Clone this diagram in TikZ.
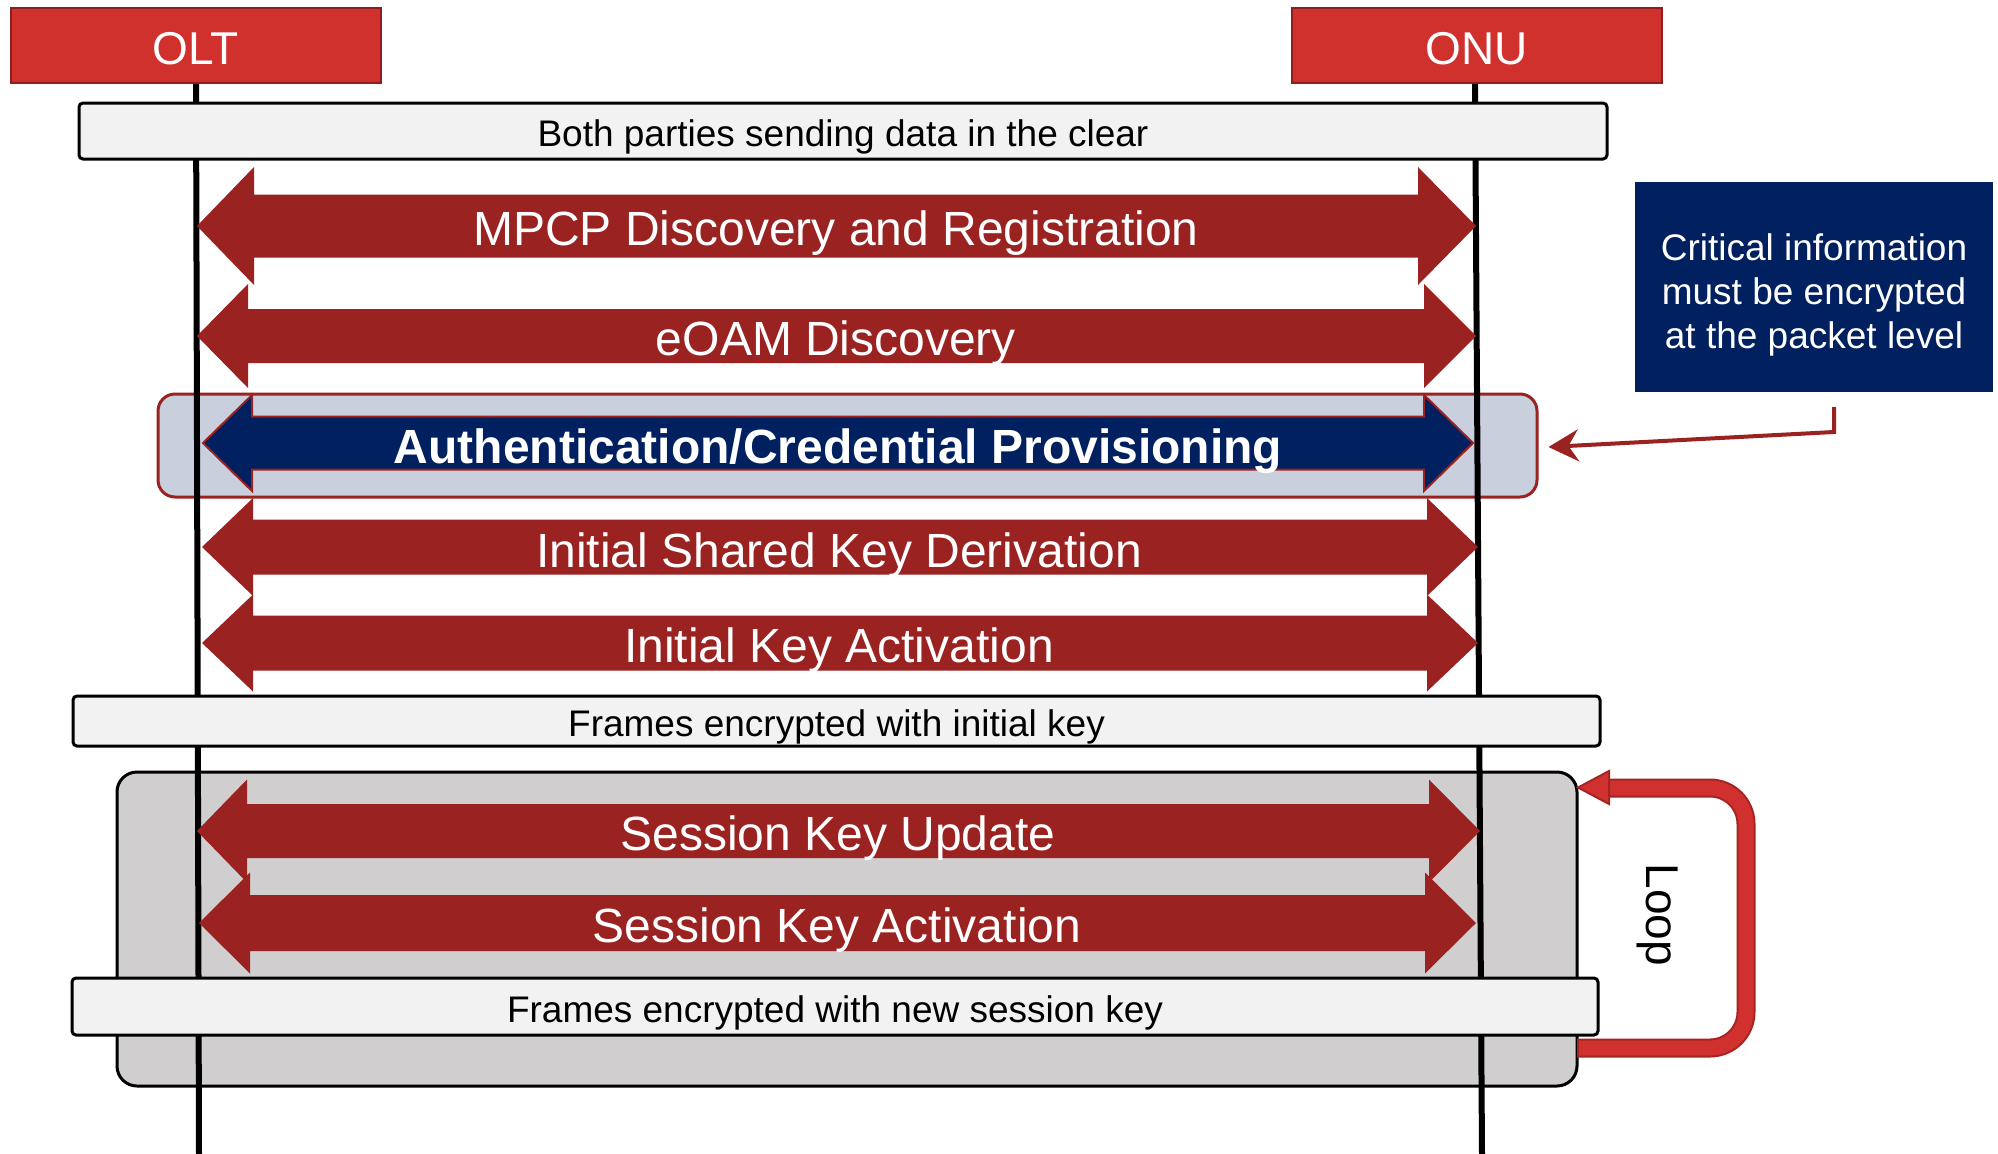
\documentclass[tikz,border=0pt]{standalone}
\usepackage{fontspec}
\setmainfont{Liberation Sans}
\usetikzlibrary{arrows.meta}
\definecolor{hdrred}{HTML}{D0312D}
\definecolor{hdrborder}{HTML}{8E1F1E}
\definecolor{arrred}{HTML}{9A2220}
\definecolor{navyblue}{HTML}{002060}
\definecolor{authbg}{HTML}{C9CFDD}
\definecolor{graybg}{HTML}{D0CECE}
\definecolor{boxbg}{HTML}{F2F2F2}
\definecolor{loopred}{HTML}{D0302E}
\definecolor{loopdark}{HTML}{A52422}
% style, left tip, left base, right base, right tip, y centre, shaft half, head half
\newcommand\dblarrow[8]{%
  \path[#1] ({#2},{#6}) -- ({#3},{#6-#8}) -- ({#3},{#6-#7}) -- ({#4},{#6-#7}) -- ({#4},{#6-#8})
    -- ({#5},{#6}) -- ({#4},{#6+#8}) -- ({#4},{#6+#7}) -- ({#3},{#6+#7}) -- ({#3},{#6+#8}) -- cycle;}
\tikzset{
  hdr/.style={draw=hdrborder, fill=hdrred, line width=2pt, minimum width=370pt, minimum height=75pt,
    inner sep=0pt},
  hdrtxt/.style={text=white, inner sep=0pt, font=\fontsize{46}{54}\selectfont},
  phase/.style={draw=black, fill=boxbg, line width=3pt, rounded corners=4pt, inner sep=0pt},
  phasetxt/.style={inner sep=0pt, font=\fontsize{37}{44}\selectfont},
  lbl/.style={text=white, inner sep=0pt, font=\fontsize{48}{56}\selectfont},
  redarrow/.style={fill=arrred},
  bluearrow/.style={fill=navyblue, draw=arrred, line width=2pt},
  lifeline/.style={line width=6pt, black},
}
\begin{document}
\begin{tikzpicture}[x=1pt, y=-1pt]
\useasboundingbox (0,0) rectangle (1998,1154);
% background frames
\node[draw=black, fill=graybg, line width=3pt, rounded corners=20pt, minimum width=1460pt, minimum height=314pt, inner sep=0pt] (loopbox) at (847,929) {};
\node[draw=arrred, fill=authbg, line width=3pt, rounded corners=17pt, minimum width=1379pt, minimum height=103pt, inner sep=0pt] (authbox) at (847.5,445.5) {};
% headers
\node[hdr] (olt) at (196,45.5) {};
\node[hdr] (onu) at (1476.5,45.5) {};
\node[hdrtxt] (oltlbl) at (196,49) {OLT};
\node[hdrtxt] (onulbl) at (1476.5,49) {ONU};
% lifelines
\coordinate (oltend) at (199,1154);
\coordinate (onuend) at (1482,1154);
\draw[lifeline] (olt.south) -- (oltend);
\draw[lifeline] ([xshift=-1.5pt]onu.south) -- (onuend);
% arrows
\dblarrow{redarrow}{197}{254}{1418}{1476}{226}{31.5}{59}
\node[lbl] (mpcp) at (836,233) {MPCP Discovery and Registration};
\dblarrow{redarrow}{197}{248}{1424}{1476}{336}{27}{52}
\node[lbl] (eoam) at (836,343) {eOAM Discovery};
\dblarrow{bluearrow}{203}{252}{1424}{1473}{443}{26.5}{48}
\node[lbl, font=\bfseries\fontsize{48}{56}\selectfont] (auth) at (838,451) {Authentication/Credential Provisioning};
\dblarrow{redarrow}{202}{253}{1427}{1478}{547}{27.5}{49}
\node[lbl] (iskd) at (839,555) {Initial Shared Key Derivation};
\dblarrow{redarrow}{202}{253}{1427}{1478}{643}{27.5}{48.5}
\node[lbl] (ika) at (839,650) {Initial Key Activation};
\dblarrow{redarrow}{197}{247}{1429}{1480}{831}{27}{51.5}
\node[lbl] (sku) at (838,838) {Session Key Update};
\dblarrow{redarrow}{199}{250}{1425}{1476}{923}{28}{50.5}
\node[lbl] (ska) at (837,930) {Session Key Activation};
% phase boxes
\node[phase, minimum width=1528pt, minimum height=56pt] (clear) at (843,131) {};
\node[phasetxt] (clearlbl) at (843,137) {Both parties sending data in the clear};
\node[phase, minimum width=1527pt, minimum height=50pt] (initenc) at (836.5,721) {};
\node[phasetxt] (initenclbl) at (836.5,727) {Frames encrypted with initial key};
\node[phase, minimum width=1526pt, minimum height=57pt] (sessenc) at (835,1006.5) {};
\node[phasetxt] (sessenclbl) at (835,1012.5) {Frames encrypted with new session key};
% callout
\node[fill=navyblue, minimum width=358pt, minimum height=210pt, inner sep=0pt] (callout) at (1814,287) {};
\node[text=white, align=center, inner sep=0pt, font=\fontsize{37}{44}\selectfont] (callouttxt) at (1814,295) {Critical information\\must be encrypted\\at the packet level};
\coordinate (cstart) at (1834,407);
\coordinate (cbend) at (1834,432);
\draw[arrred, line width=4pt, -{Stealth[length=30pt,width=32pt,inset=10pt]}] (cstart) -- (cbend) -- ([xshift=10pt,yshift=-1.5pt]authbox.east);
% loop
\coordinate (loopstart) at (1577,1048);
\coordinate (loopc1) at (1746,1048);
\coordinate (loopc2) at (1746,788);
\coordinate (loophead) at (1607,788);
\coordinate (loopend) at (1578,787.5);
\draw[loopdark, line width=19pt, rounded corners=36pt] (loopstart) -- (loopc1) -- (loopc2) -- (loophead);
\draw[loopred, line width=15pt, rounded corners=36pt] ([xshift=2pt]loopstart) -- (loopc1) -- (loopc2) -- ([xshift=2pt]loophead);
\filldraw[fill=loopred, draw=loopdark, line width=2pt] (loopend) -- (1609,771) -- (1609,804) -- cycle;
\node[rotate=-90, inner sep=0pt, font=\fontsize{46}{54}\selectfont] (looplbl) at (1658,915) {Loop};
\end{tikzpicture}
\end{document}
